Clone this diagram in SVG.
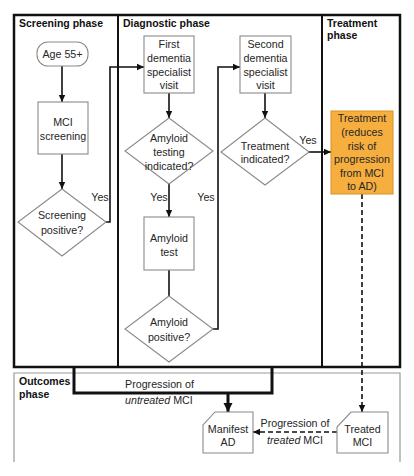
<svg xmlns="http://www.w3.org/2000/svg" width="414" height="476" viewBox="0 0 414 476">
<style>
text{font-family:"Liberation Sans",Arial,sans-serif;font-size:10.7px;fill:#262626;text-anchor:middle}
.ph{font-weight:bold;font-size:10.5px;text-anchor:start;fill:#111}
.box{fill:#fff;stroke:#8a8a8a;stroke-width:1.1}
.ln{fill:none;stroke:#111;stroke-width:1.6}
.dash{fill:none;stroke:#111;stroke-width:1.6;stroke-dasharray:5,3}
.thick{fill:none;stroke:#111;stroke-width:3}
.it{font-style:italic}
</style>
<defs>
<marker id="ah" markerUnits="userSpaceOnUse" markerWidth="8" markerHeight="8" refX="7" refY="4" orient="auto">
<path d="M0,0.8 L7,4 L0,7.2 Z" fill="#111"/>
</marker>
<marker id="ahb" markerUnits="userSpaceOnUse" markerWidth="10" markerHeight="10" refX="9" refY="5" orient="auto">
<path d="M0,0.5 L9,5 L0,9.5 Z" fill="#111"/>
</marker>
</defs>
<g id="frame">
<rect x="14" y="15" width="386" height="352" fill="#fff" stroke="#111" stroke-width="2.5"/>
<line x1="118" y1="15" x2="118" y2="367" stroke="#111" stroke-width="2"/>
<line x1="322" y1="15" x2="322" y2="367" stroke="#111" stroke-width="2"/>
<path d="M14,462 V373 H400 V462" fill="none" stroke="#9a9a9a" stroke-width="1.2"/>
<text class="ph" x="19" y="27">Screening phase</text>
<text class="ph" x="123" y="27">Diagnostic phase</text>
<text class="ph" x="327" y="27">Treatment</text>
<text class="ph" x="327" y="39">phase</text>
<text class="ph" x="19" y="385">Outcomes</text>
<text class="ph" x="19" y="398">phase</text>
</g>
<g id="connectors">
<line class="ln" x1="62" y1="66" x2="62" y2="102" marker-end="url(#ah)"/>
<line class="ln" x1="62" y1="154" x2="62" y2="189" marker-end="url(#ah)"/>
<path class="ln" d="M106,222 H110 V67 H144" marker-end="url(#ah)"/>
<line class="ln" x1="169" y1="93" x2="169" y2="118" marker-end="url(#ah)"/>
<line class="ln" x1="169" y1="184" x2="169" y2="217" marker-end="url(#ah)"/>
<line class="ln" x1="169" y1="270" x2="169" y2="296"/>
<path class="ln" d="M213,329 H218 V67 H240" marker-end="url(#ah)"/>
<line class="ln" x1="265" y1="93" x2="265" y2="118" marker-end="url(#ah)"/>
<line class="ln" x1="309" y1="152" x2="331" y2="152" marker-end="url(#ah)"/>
<line class="dash" x1="362" y1="194" x2="362" y2="412" marker-end="url(#ah)"/>
<line class="dash" x1="337" y1="432" x2="253" y2="432" marker-end="url(#ah)"/>
<path class="thick" d="M74,367 V393 H272 V367"/>
<line x1="228" y1="393" x2="228" y2="412" stroke="#111" stroke-width="3" marker-end="url(#ahb)"/>
<text x="100" y="201">Yes</text>
<text x="159" y="201">Yes</text>
<text x="206" y="201">Yes</text>
<text x="308" y="144">Yes</text>
<text x="125" y="388" style="text-anchor:start">Progression of</text>
<text x="125" y="404" style="text-anchor:start"><tspan class="it">untreated</tspan> MCI</text>
<text x="295" y="427">Progression of</text>
<text x="295" y="444"><tspan class="it">treated</tspan> MCI</text>
</g>
<g id="age">
<rect class="box" x="37" y="42" width="51" height="24" rx="11"/>
<text x="62.5" y="58">Age 55+</text>
</g>
<g id="mci-screening">
<rect class="box" x="38" y="102" width="50" height="52"/>
<text x="63" y="126">MCI</text>
<text x="63" y="140">screening</text>
</g>
<g id="screening-positive">
<path class="box" d="M62,189 L106,222 L62,256 L18,222 Z"/>
<text x="62" y="219">Screening</text>
<text x="62" y="234">positive?</text>
</g>
<g id="first-visit">
<rect class="box" x="144" y="36" width="50" height="57"/>
<text x="169" y="48">First</text>
<text x="169" y="62">dementia</text>
<text x="169" y="76">specialist</text>
<text x="169" y="89">visit</text>
</g>
<g id="testing-indicated">
<path class="box" d="M169,118 L213,151 L169,184 L125,151 Z"/>
<text x="169" y="142">Amyloid</text>
<text x="169" y="156">testing</text>
<text x="169" y="170">indicated?</text>
</g>
<g id="amyloid-test">
<rect class="box" x="144" y="217" width="50" height="53"/>
<text x="169" y="242">Amyloid</text>
<text x="169" y="256">test</text>
</g>
<g id="amyloid-positive">
<path class="box" d="M169,296 L213,329 L169,362 L125,329 Z"/>
<text x="169" y="326">Amyloid</text>
<text x="169" y="341">positive?</text>
</g>
<g id="second-visit">
<rect class="box" x="240" y="36" width="51" height="57"/>
<text x="265.5" y="48">Second</text>
<text x="265.5" y="62">dementia</text>
<text x="265.5" y="76">specialist</text>
<text x="265.5" y="89">visit</text>
</g>
<g id="treatment-indicated">
<path class="box" d="M265,118 L309,152 L265,185 L221,152 Z"/>
<text x="265" y="150">Treatment</text>
<text x="265" y="163">indicated?</text>
</g>
<g id="treatment">
<rect x="331" y="111" width="62" height="83" fill="#f6ae3f" stroke="#d98f22" stroke-width="1"/>
<text x="362" y="122">Treatment</text>
<text x="362" y="136">(reduces</text>
<text x="362" y="150">risk of</text>
<text x="362" y="163">progression</text>
<text x="362" y="177">from MCI</text>
<text x="362" y="190">to AD)</text>
</g>
<g id="manifest-ad">
<path class="box" d="M215,412 H253 V453 H203 V425 Z"/>
<text x="228" y="433">Manifest</text>
<text x="228" y="446">AD</text>
</g>
<g id="treated-mci">
<path class="box" d="M351,412 H388 V453 H337 V427 Z"/>
<text x="362.5" y="433">Treated</text>
<text x="362.5" y="446">MCI</text>
</g>
</svg>
